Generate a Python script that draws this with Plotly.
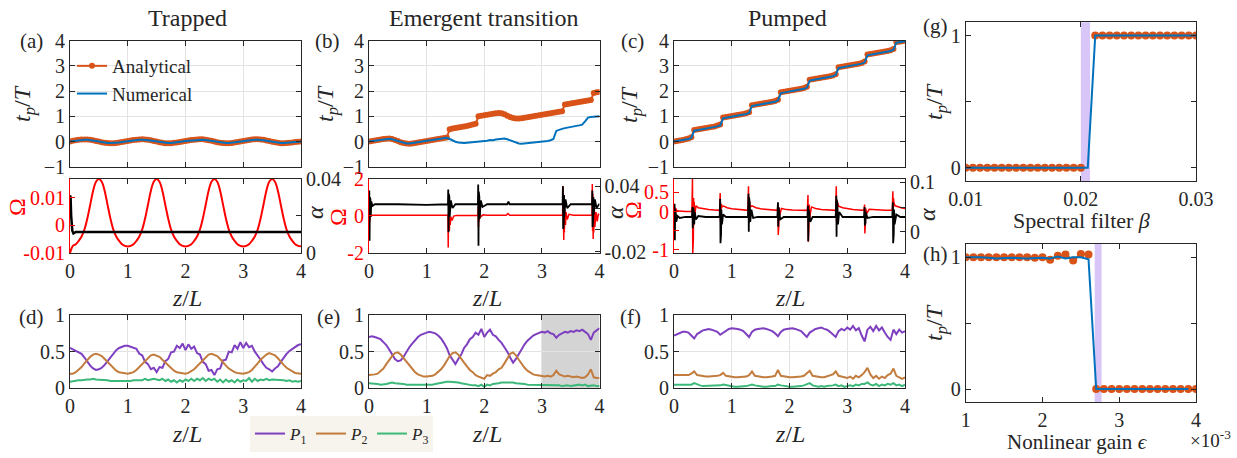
import numpy as np
import plotly.graph_objects as go

W, H = 1237, 458
FONT = "Liberation Serif"
INK = "#262626"
ORANGE = "#d95319"
BLUE = "#0072bd"
RED = "#ff0000"
BLACK = "#000000"
PURPLE = "#7e3fc0"
BROWN = "#c27c3e"
GREEN = "#3cb878"

# ---------------- data: top row t_p/T ----------------
tp_a_analytical = [0.00, 0.03, 0.05, 0.07, 0.08, 0.08, 0.08, 0.07, 0.05, 0.02, 0.00, -0.03, -0.05, -0.06, -0.07, -0.07, -0.06, -0.04, -0.02, 0.00,
                   0.02, 0.04, 0.06, 0.07, 0.08, 0.09, 0.08, 0.07, 0.05, 0.02, 0.00, -0.03, -0.05, -0.07, -0.07, -0.07, -0.05, -0.04, -0.02, 0.00,
                   0.02, 0.04, 0.06, 0.07, 0.08, 0.09, 0.09, 0.07, 0.05, 0.03, 0.00, -0.03, -0.05, -0.06, -0.07, -0.07, -0.06, -0.04, -0.02, 0.00,
                   0.02, 0.04, 0.06, 0.08, 0.09, 0.09, 0.08, 0.07, 0.04, 0.02, -0.01, -0.03, -0.05, -0.07, -0.07, -0.06, -0.05, -0.04, -0.02, -0.01,
                   0.00]
tp_a_numerical = [0.00, 0.02, 0.04, 0.06, 0.07, 0.07, 0.07, 0.06, 0.04, 0.02, 0.00, -0.03, -0.05, -0.06, -0.06, -0.06, -0.05, -0.04, -0.02, 0.00,
                  0.02, 0.03, 0.05, 0.06, 0.07, 0.07, 0.07, 0.06, 0.04, 0.02, 0.00, -0.02, -0.04, -0.06, -0.06, -0.06, -0.05, -0.03, -0.02, 0.00,
                  0.02, 0.03, 0.05, 0.06, 0.07, 0.08, 0.07, 0.06, 0.04, 0.02, 0.00, -0.03, -0.05, -0.06, -0.06, -0.06, -0.05, -0.03, -0.02, 0.00,
                  0.01, 0.03, 0.05, 0.06, 0.07, 0.07, 0.07, 0.05, 0.03, 0.01, -0.01, -0.03, -0.05, -0.06, -0.06, -0.05, -0.04, -0.03, -0.02, -0.01,
                  0.00]
tp_b_analytical = [0.00, 0.02, 0.04, 0.06, 0.08, 0.10, 0.11, 0.12, 0.10, 0.06, 0.02, -0.03, -0.06, -0.08, -0.09, -0.08, -0.06, -0.04, -0.02, 0.00,
                   0.02, 0.04, 0.06, 0.08, 0.10, 0.12, 0.14, 0.16, 0.49, 0.52, 0.54, 0.56, 0.58, 0.60, 0.62, 0.64, 0.67, 0.70, 1.00, 1.02,
                   1.04, 1.06, 1.08, 1.10, 1.12, 1.13, 1.12, 1.08, 1.02, 0.97, 0.93, 0.91, 0.91, 0.92, 0.94, 0.96, 0.98, 1.00, 1.02, 1.04,
                   1.06, 1.08, 1.10, 1.12, 1.14, 1.16, 1.18, 1.20, 1.47, 1.49, 1.51, 1.53, 1.55, 1.57, 1.59, 1.61, 1.63, 1.65, 1.92, 1.95,
                   1.96]
tp_b_numerical = [0.00, 0.02, 0.04, 0.06, 0.08, 0.10, 0.11, 0.11, 0.09, 0.05, 0.01, -0.03, -0.06, -0.08, -0.08, -0.07, -0.05, -0.03, -0.01, 0.01,
                  0.03, 0.05, 0.07, 0.09, 0.11, 0.12, 0.14, 0.15, 0.10, 0.04, -0.01, -0.04, -0.06, -0.06, -0.05, -0.04, -0.03, -0.02, -0.01, 0.00,
                  0.02, 0.03, 0.06, 0.05, 0.08, 0.10, 0.12, 0.12, 0.09, 0.04, -0.01, -0.05, -0.08, -0.09, -0.08, -0.07, -0.06, -0.05, -0.04, -0.03,
                  -0.02, 0.00, 0.02, 0.05, 0.10, 0.42, 0.47, 0.50, 0.53, 0.56, 0.58, 0.60, 0.62, 0.64, 0.67, 0.80, 0.95, 0.97, 0.98, 0.99,
                  1.00]
tp_c_analytical = [0.00, 0.02, 0.04, 0.06, 0.09, 0.12, 0.17,
                   0.46, 0.48, 0.50, 0.52, 0.54, 0.56, 0.58, 0.60, 0.63, 0.67,
                   0.95, 0.97, 0.99, 1.01, 1.03, 1.05, 1.07, 1.09, 1.12, 1.16,
                   1.44, 1.46, 1.48, 1.50, 1.52, 1.54, 1.56, 1.58, 1.61, 1.66,
                   1.95, 1.97, 1.99, 2.01, 2.03, 2.05, 2.07, 2.09, 2.12, 2.17,
                   2.45, 2.47, 2.49, 2.51, 2.53, 2.55, 2.57, 2.59, 2.62, 2.67,
                   2.95, 2.97, 2.99, 3.01, 3.03, 3.05, 3.07, 3.09, 3.12, 3.17,
                   3.45, 3.47, 3.49, 3.51, 3.53, 3.55, 3.57, 3.59, 3.62, 3.67,
                   3.95, 3.96, 3.98, 4.00]
tp_c_numerical = [0.00, 0.02, 0.03, 0.05, 0.07, 0.10, 0.14,
                  0.43, 0.45, 0.47, 0.49, 0.51, 0.53, 0.55, 0.57, 0.60, 0.64,
                  0.92, 0.94, 0.96, 0.98, 1.00, 1.02, 1.04, 1.06, 1.09, 1.13,
                  1.41, 1.43, 1.45, 1.47, 1.49, 1.51, 1.53, 1.55, 1.58, 1.63,
                  1.92, 1.94, 1.96, 1.98, 2.00, 2.02, 2.04, 2.06, 2.09, 2.14,
                  2.42, 2.44, 2.46, 2.48, 2.50, 2.52, 2.54, 2.56, 2.59, 2.64,
                  2.92, 2.94, 2.96, 2.98, 3.00, 3.02, 3.04, 3.06, 3.09, 3.14,
                  3.42, 3.44, 3.46, 3.48, 3.50, 3.52, 3.54, 3.56, 3.59, 3.64,
                  3.92, 3.94, 3.96, 3.98]

# ---------------- data: middle row Omega / alpha ----------------
omega_a = [-0.0100, -0.0074, -0.0068, -0.0056, -0.0040, -0.0015, 0.0025, 0.0075, 0.0125, 0.0158, 0.0168, 0.0158, 0.0125, 0.0075, 0.0025, -0.0015, -0.0040, -0.0056, -0.0068, -0.0074,
           -0.0076, -0.0074, -0.0068, -0.0056, -0.0040, -0.0015, 0.0025, 0.0075, 0.0125, 0.0158, 0.0168, 0.0158, 0.0125, 0.0075, 0.0025, -0.0015, -0.0040, -0.0056, -0.0068, -0.0074,
           -0.0076, -0.0074, -0.0068, -0.0056, -0.0040, -0.0015, 0.0025, 0.0075, 0.0125, 0.0158, 0.0168, 0.0158, 0.0125, 0.0075, 0.0025, -0.0015, -0.0040, -0.0056, -0.0068, -0.0074,
           -0.0076, -0.0074, -0.0068, -0.0056, -0.0040, -0.0015, 0.0025, 0.0075, 0.0125, 0.0158, 0.0168, 0.0158, 0.0125, 0.0075, 0.0025, -0.0015, -0.0040, -0.0056, -0.0068, -0.0074,
           -0.0076]
alpha_a_z = [0.0, 0.01, 0.02, 0.04, 0.06, 0.10, 1.0, 2.0, 3.0, 4.0]
alpha_a = [0.031, 0.030, 0.020, 0.012, 0.0105, 0.0113, 0.0113, 0.0113, 0.0113, 0.0113]

omega_b_z = [0.00, 0.005, 0.01, 0.015, 0.02, 0.03, 0.06, 0.5, 1.0, 1.37,
             1.375, 1.38, 1.385, 1.39, 1.395, 1.40, 1.41, 1.42, 1.44, 1.47, 1.52, 1.89,
             1.895, 1.90, 1.905, 1.91, 1.92, 1.94, 1.98, 2.05, 2.38, 2.41, 2.44, 3.36,
             3.365, 3.37, 3.375, 3.38, 3.385, 3.39, 3.40, 3.41, 3.42, 3.44, 3.47, 3.55, 3.87,
             3.875, 3.88, 3.885, 3.89, 3.895, 3.90, 3.91, 3.92, 3.94, 3.96, 3.98, 4.00]
omega_b = [0.0, -0.5, 0.3, -0.3, 0.15, 0.0, 0.03, 0.03, 0.03, 0.03,
           -1.7, 0.15, -1.2, 0.05, -0.8, -0.1, -0.5, -0.05, -0.25, -0.02, 0.02, 0.03,
           0.5, -0.6, 0.3, -0.3, 0.15, -0.05, 0.05, 0.03, 0.03, 0.12, 0.03, 0.03,
           1.6, -0.6, 1.0, -1.3, 0.6, -0.9, 0.3, -0.5, 0.2, -0.2, 0.08, 0.03, 0.03,
           1.7, -0.8, 1.2, -1.25, 0.7, -0.9, 0.4, -0.6, 0.2, -0.3, 0.1, 0.05]
alpha_b_z = [0.00, 0.005, 0.01, 0.015, 0.02, 0.025, 0.03, 0.04, 0.06, 0.10, 0.5, 1.0, 1.37,
             1.375, 1.38, 1.385, 1.39, 1.395, 1.40, 1.42, 1.45, 1.50, 1.89,
             1.895, 1.90, 1.905, 1.91, 1.915, 1.92, 1.94, 1.97, 2.05, 2.40, 2.42, 2.44, 3.36,
             3.365, 3.37, 3.375, 3.38, 3.385, 3.39, 3.41, 3.44, 3.50, 3.87,
             3.875, 3.88, 3.885, 3.89, 3.895, 3.90, 3.92, 3.95, 4.00]
alpha_b = [0.020, 0.036, -0.0098, 0.030, 0.0, 0.028, 0.012, 0.026, 0.022, 0.0235, 0.0235, 0.023, 0.0235,
           0.0369, -0.002, 0.033, 0.005, 0.030, 0.012, 0.027, 0.020, 0.0235, 0.0235,
           0.0416, -0.0144, 0.035, -0.005, 0.030, 0.010, 0.027, 0.021, 0.0235, 0.0235, 0.026, 0.0235, 0.0235,
           0.040, 0.001, 0.036, 0.006, 0.032, 0.012, 0.028, 0.020, 0.0235, 0.0235,
           0.036, 0.0027, 0.033, 0.008, 0.030, 0.014, 0.028, 0.020, 0.024]

omega_c_z = [0.00, 0.01, 0.02, 0.03, 0.05, 0.10, 0.20, 0.29, 0.31,
             0.32, 0.325, 0.33, 0.335, 0.34, 0.345, 0.35, 0.36, 0.38, 0.42, 0.50, 0.60, 0.70, 0.79,
             0.80, 0.805, 0.81, 0.815, 0.82, 0.83, 0.86, 0.92, 1.00, 1.10, 1.20, 1.28,
             1.29, 1.295, 1.30, 1.305, 1.31, 1.32, 1.35, 1.42, 1.50, 1.60, 1.70, 1.79,
             1.80, 1.805, 1.81, 1.815, 1.82, 1.83, 1.86, 1.95, 2.05, 2.20, 2.31,
             2.32, 2.325, 2.33, 2.335, 2.34, 2.35, 2.38, 2.45, 2.55, 2.70, 2.80,
             2.81, 2.815, 2.82, 2.825, 2.83, 2.85, 2.92, 3.00, 3.10, 3.20, 3.29,
             3.30, 3.305, 3.31, 3.315, 3.32, 3.34, 3.38, 3.50, 3.65, 3.78,
             3.79, 3.795, 3.80, 3.805, 3.81, 3.83, 3.88, 3.95, 4.00]
omega_c = [0.00, 0.12, -0.10, 0.08, 0.02, 0.01, 0.00, 0.00, 0.02,
           0.86, -1.08, 0.60, -0.70, 0.35, -0.35, 0.25, -0.10, 0.15, 0.10, 0.07, 0.05, 0.04, 0.03,
           0.48, -0.25, 0.30, -0.15, 0.20, 0.12, 0.14, 0.10, 0.07, 0.05, 0.04, 0.03,
           0.66, -0.30, 0.40, -0.15, 0.25, 0.12, 0.15, 0.10, 0.07, 0.05, 0.04, 0.03,
           0.20, -0.61, 0.15, -0.35, 0.10, -0.10, 0.08, 0.05, 0.04, 0.03, 0.03,
           0.43, -0.79, 0.30, -0.45, 0.18, -0.15, 0.12, 0.08, 0.05, 0.04, 0.03,
           0.66, -0.25, 0.40, -0.12, 0.25, 0.14, 0.10, 0.07, 0.05, 0.04, 0.03,
           0.18, -0.57, 0.12, -0.30, 0.08, -0.05, 0.06, 0.04, 0.03, 0.03,
           0.53, -0.20, 0.35, -0.10, 0.22, 0.15, 0.12, 0.09, 0.08]
alpha_c_z = [0.00, 0.01, 0.015, 0.02, 0.025, 0.03, 0.04, 0.06, 0.10, 0.20, 0.31,
             0.32, 0.325, 0.33, 0.335, 0.34, 0.35, 0.36, 0.38, 0.42, 0.55, 0.79,
             0.80, 0.805, 0.81, 0.815, 0.82, 0.83, 0.85, 0.90, 1.28,
             1.29, 1.295, 1.30, 1.305, 1.31, 1.32, 1.34, 1.37, 1.45, 1.79,
             1.80, 1.805, 1.81, 1.815, 1.82, 1.84, 1.90, 2.31,
             2.32, 2.325, 2.33, 2.335, 2.34, 2.36, 2.40, 2.80,
             2.81, 2.815, 2.82, 2.825, 2.83, 2.84, 2.86, 2.92, 3.29,
             3.30, 3.305, 3.31, 3.315, 3.32, 3.35, 3.45, 3.78,
             3.79, 3.795, 3.80, 3.805, 3.81, 3.82, 3.85, 3.92, 4.00]
alpha_c = [0.030, 0.057, -0.017, 0.045, 0.000, 0.038, 0.020, 0.032, 0.028, 0.030, 0.030,
           0.050, 0.007, 0.048, 0.010, 0.045, 0.015, 0.040, 0.025, 0.032, 0.030, 0.030,
           0.067, -0.023, 0.055, -0.005, 0.045, 0.015, 0.035, 0.030, 0.030,
           0.077, 0.000, 0.070, 0.010, 0.060, 0.020, 0.045, 0.028, 0.030, 0.030,
           0.060, 0.010, 0.050, 0.015, 0.042, 0.025, 0.030, 0.030,
           0.053, -0.019, 0.045, -0.005, 0.040, 0.020, 0.030, 0.030,
           0.073, -0.010, 0.065, 0.000, 0.055, 0.015, 0.040, 0.030, 0.030,
           0.050, 0.013, 0.045, 0.018, 0.040, 0.028, 0.030, 0.030,
           0.060, -0.023, 0.050, -0.005, 0.045, 0.015, 0.035, 0.030, 0.030]

# ---------------- data: bottom row P1 P2 P3 ----------------
p1_d = [0.55, 0.53, 0.52, 0.50, 0.47, 0.42, 0.36, 0.31, 0.27, 0.25, 0.26, 0.28, 0.32, 0.37, 0.43, 0.48, 0.52, 0.55, 0.57, 0.58,
        0.58, 0.57, 0.55, 0.54, 0.47, 0.45, 0.36, 0.33, 0.26, 0.28, 0.22, 0.29, 0.28, 0.37, 0.40, 0.49, 0.50, 0.58, 0.55, 0.61,
        0.52, 0.60, 0.54, 0.57, 0.48, 0.46, 0.36, 0.33, 0.24, 0.25, 0.18, 0.26, 0.27, 0.38, 0.39, 0.50, 0.49, 0.59, 0.54, 0.63,
        0.55, 0.62, 0.56, 0.58, 0.50, 0.45, 0.39, 0.33, 0.28, 0.26, 0.23, 0.27, 0.30, 0.36, 0.42, 0.47, 0.51, 0.54, 0.56, 0.59,
        0.60]
p2_d = [0.20, 0.20, 0.22, 0.25, 0.29, 0.34, 0.39, 0.43, 0.46, 0.47, 0.46, 0.44, 0.40, 0.36, 0.31, 0.27, 0.24, 0.22, 0.21, 0.20,
        0.20, 0.21, 0.22, 0.25, 0.29, 0.34, 0.38, 0.42, 0.45, 0.46, 0.45, 0.43, 0.39, 0.35, 0.31, 0.27, 0.24, 0.22, 0.21, 0.20,
        0.20, 0.21, 0.23, 0.26, 0.30, 0.34, 0.39, 0.43, 0.46, 0.47, 0.46, 0.44, 0.40, 0.35, 0.31, 0.27, 0.24, 0.22, 0.21, 0.20,
        0.20, 0.21, 0.22, 0.25, 0.29, 0.34, 0.39, 0.43, 0.46, 0.48, 0.47, 0.45, 0.41, 0.36, 0.32, 0.28, 0.25, 0.23, 0.21, 0.20,
        0.20]
p3_d = [0.09, 0.10, 0.10, 0.11, 0.11, 0.12, 0.12, 0.12, 0.13, 0.12, 0.12, 0.12, 0.11, 0.11, 0.10, 0.10, 0.10, 0.09, 0.10, 0.09,
        0.10, 0.10, 0.11, 0.11, 0.12, 0.11, 0.13, 0.11, 0.12, 0.13, 0.12, 0.11, 0.13, 0.10, 0.12, 0.09, 0.11, 0.08, 0.11, 0.09,
        0.12, 0.10, 0.13, 0.10, 0.13, 0.11, 0.14, 0.10, 0.13, 0.11, 0.13, 0.09, 0.12, 0.08, 0.12, 0.09, 0.11, 0.08, 0.12, 0.09,
        0.11, 0.10, 0.14, 0.09, 0.13, 0.10, 0.12, 0.11, 0.13, 0.11, 0.12, 0.12, 0.11, 0.12, 0.11, 0.10, 0.11, 0.09, 0.10, 0.09,
        0.10]
p1_e = [0.70, 0.71, 0.70, 0.69, 0.67, 0.63, 0.59, 0.53, 0.46, 0.40, 0.37, 0.38, 0.43, 0.50, 0.56, 0.61, 0.66, 0.70, 0.73, 0.75,
        0.76, 0.77, 0.76, 0.75, 0.72, 0.68, 0.62, 0.55, 0.45, 0.38, 0.33, 0.40, 0.46, 0.55, 0.60, 0.67, 0.70, 0.76, 0.73, 0.81,
        0.70, 0.76, 0.80, 0.73, 0.71, 0.66, 0.62, 0.56, 0.50, 0.42, 0.35, 0.40, 0.47, 0.54, 0.60, 0.65, 0.69, 0.72, 0.74, 0.75,
        0.77, 0.76, 0.78, 0.75, 0.74, 0.69, 0.73, 0.75, 0.77, 0.76, 0.78, 0.77, 0.79, 0.78, 0.80, 0.77, 0.74, 0.66, 0.76, 0.79,
        0.82]
p2_e = [0.18, 0.18, 0.19, 0.20, 0.23, 0.27, 0.33, 0.39, 0.44, 0.48, 0.49, 0.46, 0.41, 0.36, 0.31, 0.26, 0.22, 0.19, 0.17, 0.16,
        0.16, 0.16, 0.17, 0.19, 0.22, 0.26, 0.31, 0.38, 0.44, 0.48, 0.49, 0.46, 0.40, 0.35, 0.30, 0.25, 0.22, 0.18, 0.16, 0.15,
        0.13, 0.18, 0.17, 0.20, 0.22, 0.26, 0.28, 0.34, 0.41, 0.47, 0.49, 0.45, 0.39, 0.33, 0.28, 0.24, 0.21, 0.19, 0.18, 0.17,
        0.17, 0.16, 0.17, 0.16, 0.18, 0.24, 0.19, 0.17, 0.16, 0.17, 0.16, 0.15, 0.16, 0.15, 0.14, 0.15, 0.19, 0.26, 0.15, 0.14,
        0.14]
p3_e = [0.07, 0.07, 0.06, 0.06, 0.05, 0.05, 0.06, 0.07, 0.08, 0.07, 0.07, 0.06, 0.06, 0.05, 0.05, 0.04, 0.04, 0.04, 0.04, 0.04,
        0.04, 0.05, 0.05, 0.06, 0.07, 0.08, 0.08, 0.09, 0.09, 0.09, 0.08, 0.08, 0.07, 0.06, 0.05, 0.05, 0.04, 0.04, 0.03, 0.05,
        0.02, 0.05, 0.04, 0.06, 0.06, 0.07, 0.08, 0.08, 0.09, 0.08, 0.08, 0.07, 0.07, 0.06, 0.06, 0.05, 0.05, 0.05, 0.04, 0.04,
        0.04, 0.04, 0.04, 0.05, 0.04, 0.04, 0.04, 0.03, 0.04, 0.04, 0.03, 0.04, 0.04, 0.05, 0.04, 0.05, 0.03, 0.04, 0.04, 0.03,
        0.03]
p1_f = [0.72, 0.74, 0.76, 0.77, 0.77, 0.76, 0.72, 0.68, 0.74, 0.77, 0.79, 0.80, 0.81, 0.80, 0.79, 0.77, 0.73, 0.76, 0.79, 0.81,
        0.82, 0.82, 0.81, 0.80, 0.78, 0.74, 0.70, 0.77, 0.80, 0.81, 0.82, 0.82, 0.81, 0.80, 0.78, 0.75, 0.71, 0.77, 0.80, 0.81,
        0.82, 0.82, 0.81, 0.80, 0.78, 0.74, 0.70, 0.76, 0.79, 0.81, 0.82, 0.83, 0.81, 0.80, 0.77, 0.74, 0.70, 0.78, 0.81, 0.79,
        0.83, 0.80, 0.85, 0.79, 0.82, 0.72, 0.64, 0.80, 0.84, 0.78, 0.85, 0.79, 0.83, 0.76, 0.70, 0.66, 0.80, 0.74, 0.80, 0.76,
        0.78]
p2_f = [0.18, 0.18, 0.17, 0.17, 0.17, 0.18, 0.20, 0.23, 0.18, 0.17, 0.16, 0.16, 0.16, 0.16, 0.16, 0.17, 0.18, 0.21, 0.17, 0.16,
        0.16, 0.15, 0.15, 0.15, 0.15, 0.16, 0.18, 0.23, 0.17, 0.16, 0.15, 0.15, 0.15, 0.15, 0.16, 0.17, 0.25, 0.17, 0.16, 0.15,
        0.15, 0.15, 0.15, 0.15, 0.16, 0.17, 0.20, 0.24, 0.17, 0.16, 0.15, 0.15, 0.15, 0.16, 0.17, 0.19, 0.23, 0.17, 0.16, 0.15,
        0.14, 0.16, 0.13, 0.17, 0.15, 0.18, 0.22, 0.28, 0.19, 0.14, 0.17, 0.13, 0.16, 0.14, 0.18, 0.20, 0.27, 0.17, 0.15, 0.13,
        0.15]
p3_f = [0.05, 0.05, 0.04, 0.04, 0.04, 0.04, 0.05, 0.07, 0.05, 0.04, 0.03, 0.03, 0.03, 0.03, 0.03, 0.03, 0.04, 0.05, 0.04, 0.03,
        0.02, 0.02, 0.02, 0.02, 0.03, 0.03, 0.04, 0.05, 0.04, 0.03, 0.02, 0.02, 0.02, 0.03, 0.03, 0.03, 0.05, 0.04, 0.03, 0.02,
        0.02, 0.02, 0.02, 0.03, 0.03, 0.04, 0.05, 0.07, 0.04, 0.03, 0.02, 0.03, 0.02, 0.03, 0.03, 0.04, 0.05, 0.03, 0.04, 0.02,
        0.03, 0.04, 0.03, 0.05, 0.04, 0.06, 0.06, 0.08, 0.05, 0.04, 0.06, 0.03, 0.05, 0.04, 0.06, 0.05, 0.07, 0.04, 0.05, 0.03,
        0.05]
gray_region = [3.0, 4.0]

# ---------------- data: right column (g), (h) ----------------
beta_an = [0.01, 0.010625, 0.01125, 0.011875, 0.0125, 0.013125, 0.01375, 0.014375, 0.015, 0.015625, 0.01625, 0.016875,
           0.0175, 0.018125, 0.01875, 0.019375, 0.02, 0.020625,
           0.02125, 0.021875, 0.0225, 0.023125, 0.02375, 0.024375, 0.025, 0.025625, 0.02625, 0.026875, 0.0275,
           0.028125, 0.02875, 0.029375, 0.03]
tp_beta_an = [0, 0, 0, 0, 0, 0, 0, 0, 0, 0, 0, 0, 0, 0, 0, 0, 0, None,
              1, 1, 1, 1, 1, 1, 1, 1, 1, 1, 1, 1, 1, 1, 1]
beta_num = [0.01, 0.015, 0.02, 0.0206, 0.02125, 0.022, 0.025, 0.027, 0.0285, 0.03]
tp_beta_num = [0.0, 0.0, 0.0, 0.0, 1.0, 1.0, 1.0, 0.995, 1.0, 1.0]
beta_band = [0.0200, 0.0208]

eps_an = [1.0, 1.1, 1.2, 1.3, 1.4, 1.5, 1.6, 1.7, 1.8, 1.9, 2.0, 2.1, 2.2, 2.3, 2.4, 2.5, 2.6, 2.65,
          2.7, 2.8, 2.9, 3.0, 3.1, 3.2, 3.3, 3.4, 3.5, 3.6, 3.7, 3.8, 3.9, 4.0]
tp_eps_an = [1.0, 1.0, 1.0, 1.0, 1.0, 1.0, 1.0, 1.0, 1.0, 0.995, 1.0, 0.98, 1.01, 1.02, 0.975, 1.025, 1.02, None,
             0, 0, 0, 0, 0, 0, 0, 0, 0, 0, 0, 0, 0, 0]
eps_num = [1.0, 1.2, 1.4, 1.6, 1.8, 2.0, 2.1, 2.2, 2.3, 2.4, 2.5, 2.6, 2.7, 3.9]
tp_eps_num = [1.0, 1.0, 0.99, 0.995, 0.99, 0.995, 0.99, 1.005, 0.99, 1.0, 1.0, 0.985, 0.0, 0.0]
eps_band = [2.68, 2.77]


def zgrid(vals):
    return np.linspace(0, 4, len(vals))


def fx(p):
    return p / W


def fy(p):
    return 1 - p / H


fig = go.Figure()

# top row
for k, (an, nu) in enumerate([(tp_a_analytical, tp_a_numerical),
                              (tp_b_analytical, tp_b_numerical),
                              (tp_c_analytical, tp_c_numerical)]):
    xa = "x" if k == 0 else f"x{k+1}"
    ya = "y" if k == 0 else f"y{k+1}"
    fig.add_trace(go.Scatter(x=zgrid(an), y=an, mode="lines+markers", name="Analytical",
                             line=dict(color=ORANGE, width=2), marker=dict(color=ORANGE, size=6),
                             xaxis=xa, yaxis=ya, showlegend=(k == 0), legend="legend"))
    fig.add_trace(go.Scatter(x=zgrid(nu), y=nu, mode="lines", name="Numerical",
                             line=dict(color=BLUE, width=2),
                             xaxis=xa, yaxis=ya, showlegend=(k == 0), legend="legend"))

# middle row
fig.add_trace(go.Scatter(x=zgrid(omega_a), y=omega_a, mode="lines", line=dict(color=RED, width=2, shape="spline"),
                         xaxis="x4", yaxis="y4", showlegend=False))
fig.add_trace(go.Scatter(x=alpha_a_z, y=alpha_a, mode="lines", line=dict(color=BLACK, width=2.5),
                         xaxis="x4", yaxis="y12", showlegend=False))
fig.add_trace(go.Scatter(x=omega_b_z, y=omega_b, mode="lines", line=dict(color=RED, width=1.5),
                         xaxis="x5", yaxis="y5", showlegend=False))
fig.add_trace(go.Scatter(x=alpha_b_z, y=alpha_b, mode="lines", line=dict(color=BLACK, width=1.8),
                         xaxis="x5", yaxis="y13", showlegend=False))
fig.add_trace(go.Scatter(x=omega_c_z, y=omega_c, mode="lines", line=dict(color=RED, width=1.5),
                         xaxis="x6", yaxis="y6", showlegend=False))
fig.add_trace(go.Scatter(x=alpha_c_z, y=alpha_c, mode="lines", line=dict(color=BLACK, width=1.8),
                         xaxis="x6", yaxis="y14", showlegend=False))

# bottom row
for k, (p1, p2, p3) in enumerate([(p1_d, p2_d, p3_d), (p1_e, p2_e, p3_e), (p1_f, p2_f, p3_f)]):
    xa, ya = f"x{k+7}", f"y{k+7}"
    for vals, col, nm in [(p1, PURPLE, "<i>P</i><sub>1</sub>"), (p2, BROWN, "<i>P</i><sub>2</sub>"),
                          (p3, GREEN, "<i>P</i><sub>3</sub>")]:
        fig.add_trace(go.Scatter(x=zgrid(vals), y=vals, mode="lines", name=nm, line=dict(color=col, width=2),
                                 xaxis=xa, yaxis=ya, showlegend=(k == 0), legend="legend2"))

# right column
fig.add_trace(go.Scatter(x=beta_an, y=tp_beta_an, mode="lines+markers", line=dict(color=ORANGE, width=2),
                         marker=dict(color=ORANGE, size=8), xaxis="x10", yaxis="y10", showlegend=False,
                         connectgaps=False))
fig.add_trace(go.Scatter(x=beta_num, y=tp_beta_num, mode="lines", line=dict(color=BLUE, width=2),
                         xaxis="x10", yaxis="y10", showlegend=False))
fig.add_trace(go.Scatter(x=eps_an, y=tp_eps_an, mode="lines+markers", line=dict(color=ORANGE, width=2),
                         marker=dict(color=ORANGE, size=8), xaxis="x11", yaxis="y11", showlegend=False,
                         connectgaps=False))
fig.add_trace(go.Scatter(x=eps_num, y=tp_eps_num, mode="lines", line=dict(color=BLUE, width=2),
                         xaxis="x11", yaxis="y11", showlegend=False))

TF = dict(family=FONT, size=20, color=INK)


def xax(dom, rng, anchor, labels=True, grid=False, tickvals=None):
    d = dict(domain=dom, range=rng, anchor=anchor, showline=True, linecolor=INK, linewidth=1,
             mirror="ticks", ticks="inside", ticklen=5, tickcolor=INK, showgrid=grid,
             gridcolor="#e3e3e3", zeroline=False, showticklabels=labels, tickfont=TF,
             automargin=False,
             tickvals=tickvals if tickvals is not None else [0, 1, 2, 3, 4])
    return d


def yax(dom, rng, anchor, tickvals, ticktext=None, grid=False, mirror="ticks", color=INK,
        side="left", overlaying=None):
    d = dict(domain=dom, range=rng, anchor=anchor, showline=True, linecolor=color, linewidth=1,
             mirror=mirror, ticks="inside", ticklen=5, tickcolor=color, showgrid=grid,
             gridcolor="#e3e3e3", zeroline=False, tickfont=dict(family=FONT, size=20, color=color),
             tickvals=tickvals, side=side, automargin=False)
    if ticktext is not None:
        d["ticktext"] = ticktext
    if overlaying:
        d["overlaying"] = overlaying
    return d


colx = [[fx(70), fx(301)], [fx(369), fx(599.5)], [fx(674), fx(905)]]
top_y = [fy(166.7), fy(40.7)]
mid_y = [fy(253), fy(178.5)]
bot_y = [fy(388.3), fy(315)]
gx = [fx(965.7), fx(1196)]
g_y = [fy(181), fy(22.3)]
h_y = [fy(402.3), fy(244)]

layout = dict(template="none", width=W, height=H, autosize=False, margin=dict(l=0, r=0, t=0, b=0, pad=0),
              paper_bgcolor="white", plot_bgcolor="white", font=dict(family=FONT, color=INK))

for k in range(3):
    sx = "" if k == 0 else str(k + 1)
    layout[f"xaxis{sx}"] = xax(colx[k], [0, 4], f"y{sx}", labels=False, grid=True)
    layout[f"yaxis{sx}"] = yax(top_y, [-1, 4], f"x{sx}", [-1, 0, 1, 2, 3, 4], grid=True)

# middle row
for k in range(3):
    layout[f"xaxis{k+4}"] = xax(colx[k], [0, 4], f"y{k+4}")
layout["yaxis4"] = yax(mid_y, [-0.01, 0.017], "x4", [-0.01, 0, 0.01], ["-0.01", "0", "0.01"], mirror=False, color=RED)
layout["yaxis5"] = yax(mid_y, [-2, 2], "x5", [-2, 0, 2], ["-2", "0", "2"], mirror=False, color=RED)
layout["yaxis6"] = yax(mid_y, [-1.08, 0.86], "x6", [-1, -0.5, 0, 0.5], ["-1", "", "0", "0.5"], mirror=False, color=RED)
layout["yaxis12"] = yax(mid_y, [0, 0.04], "x4", [0, 0.02, 0.04], ["0", "", "0.04"], mirror=False,
                        side="right", overlaying="y4")
layout["yaxis13"] = yax(mid_y, [-0.021, 0.047], "x5", [-0.02, 0, 0.02, 0.04], ["-0.02", "", "", "0.04"], mirror=False,
                        side="right", overlaying="y5")
layout["yaxis14"] = yax(mid_y, [-0.043, 0.108], "x6", [0, 0.05, 0.1], ["0", "", "0.1"], mirror=False,
                        side="right", overlaying="y6")

# bottom row
for k in range(3):
    layout[f"xaxis{k+7}"] = xax(colx[k], [0, 4], f"y{k+7}", grid=True)
    layout[f"yaxis{k+7}"] = yax(bot_y, [0, 1], f"x{k+7}", [0, 0.5, 1], ["0", "0.5", "1"], grid=True)

# right column
layout["xaxis10"] = xax(gx, [0.01, 0.03], "y10", tickvals=[0.01, 0.02, 0.03])
layout["xaxis10"]["ticktext"] = ["0.01", "0.02", "0.03"]
layout["yaxis10"] = yax(g_y, [-0.1, 1.1], "x10", [0, 0.5, 1], ["0", "", "1"])
layout["xaxis11"] = xax(gx, [1, 4], "y11", tickvals=[1, 2, 3, 4])
layout["yaxis11"] = yax(h_y, [-0.1, 1.1], "x11", [0, 0.5, 1], ["0", "", "1"])

layout["shapes"] = [
    dict(type="rect", xref="x8", yref="y8 domain", x0=gray_region[0], x1=gray_region[1], y0=0, y1=1,
         fillcolor="#d4d4d4", line=dict(width=0), layer="below"),
    dict(type="rect", xref="x10", yref="y10 domain", x0=beta_band[0], x1=beta_band[1], y0=0, y1=1,
         fillcolor="#d7c6f7", line=dict(width=0), layer="below"),
    dict(type="rect", xref="x11", yref="y11 domain", x0=eps_band[0], x1=eps_band[1], y0=0, y1=1,
         fillcolor="#d7c6f7", line=dict(width=0), layer="below"),
]

layout["legend"] = dict(x=fx(72), y=fy(47), xanchor="left", yanchor="top", bgcolor="rgba(0,0,0,0)",
                        font=dict(family=FONT, size=19, color=INK), tracegroupgap=0, itemwidth=30,
                        borderwidth=0)
layout["legend2"] = dict(orientation="h", x=fx(250), y=fy(416), xanchor="left", yanchor="top",
                         bgcolor="#f6f4ec", font=dict(family=FONT, size=17, color=INK),
                         entrywidth=16, entrywidthmode="pixels", itemwidth=30, borderwidth=0)


def ann(text, x, y, size=21, color=INK, angle=0):
    return dict(text=text, x=fx(x), y=fy(y), xref="paper", yref="paper", showarrow=False,
                xanchor="center", yanchor="middle", textangle=angle,
                font=dict(family=FONT, size=size, color=color))


TP = "<i>t<sub>p</sub></i>/<i>T</i>"
ZL = "<i>z</i>/<i>L</i>"
layout["annotations"] = [
    ann("Trapped", 187, 18, 24), ann("Emergent transition", 484, 18, 24), ann("Pumped", 788, 18, 24),
    ann("(a)", 31, 41), ann("(b)", 327, 41), ann("(c)", 632, 41),
    ann("(d)", 31, 317), ann("(e)", 328, 317), ann("(f)", 631, 317),
    ann("(g)", 935, 26), ann("(h)", 935, 254),
    ann(TP, 24, 104, 24, angle=-90), ann(TP, 327, 104, 24, angle=-90), ann(TP, 631, 104, 24, angle=-90),
    ann(TP, 936, 102, 24, angle=-90), ann(TP, 936, 323, 24, angle=-90),
    ann("Ω", 17, 207, 24, RED, -90), ann("Ω", 338, 217, 24, RED, -90), ann("Ω", 633, 210, 24, RED, -90),
    ann("<i>α</i>", 315, 213, 24, INK, -90), ann("<i>α</i>", 615, 213, 24, INK, -90), ann("<i>α</i>", 927, 215, 24, INK, -90),
    ann(ZL, 187, 298, 24), ann(ZL, 487, 298, 24), ann(ZL, 790, 298, 24),
    ann(ZL, 187, 434, 24), ann(ZL, 487, 434, 24), ann(ZL, 790, 434, 24),
    ann("Spectral filter <i>β</i>", 1081, 221, 22),
    ann("Nonlinear gain <i>ϵ</i>", 1077, 442, 21),
    ann("×10<sup>-3</sup>", 1210, 439, 19),
]

fig.update_layout(**layout)
fig.write_html("out.html", config={"displayModeBar": False},
               post_script="document.body.style.margin='0px';document.body.style.padding='0px';")
